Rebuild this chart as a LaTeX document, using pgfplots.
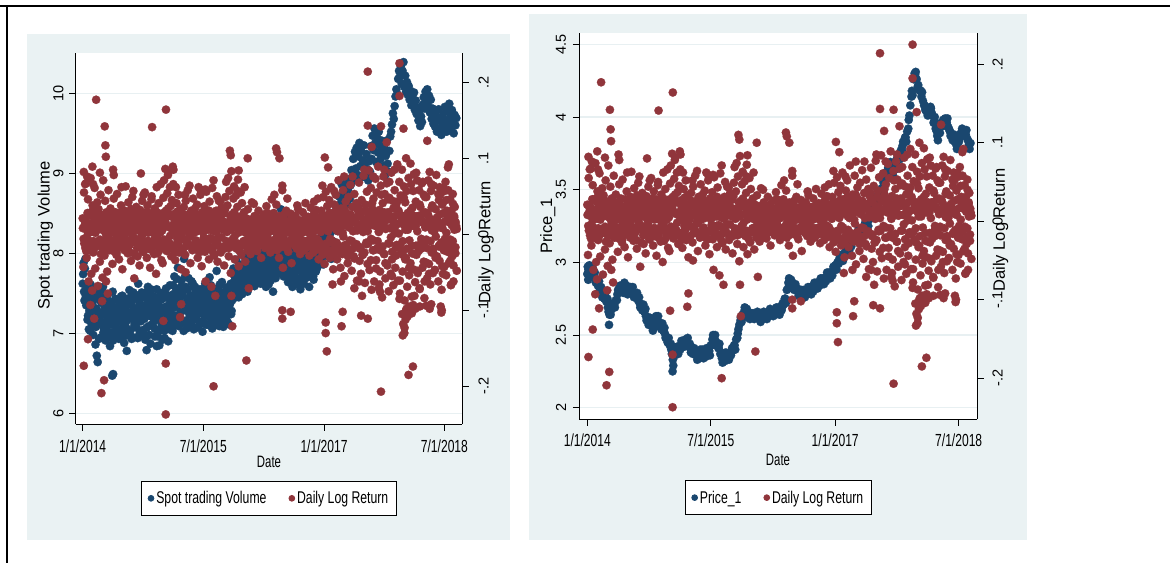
\documentclass[border=0pt]{standalone}
\usepackage{fontspec}
\setmainfont{Liberation Sans}
\newfontfamily\sqf{Liberation Sans}[FakeStretch=0.69]
\newfontfamily\lgf{Liberation Sans}[FakeStretch=0.72]
\newfontfamily\rtf{Liberation Sans}
\usepackage{pgfplots}
\usepackage{pgfplotstable}
\pgfplotsset{compat=1.18}
\definecolor{navyc}{RGB}{26,71,111}
\definecolor{maroonc}{RGB}{144,53,59}
\definecolor{bgc}{RGB}{234,242,243}
\definecolor{gridc}{RGB}{232,240,242}
\newcommand\xf{\sqf\fontsize{17.5}{19}\selectfont}
\newcommand\df{\sqf\fontsize{16.5}{18}\selectfont}
\newcommand\yf{\rtf\fontsize{14.5}{16}\selectfont}
\newcommand\tf{\rtf\fontsize{16.5}{18}\selectfont}
\pgfplotsset{
  base/.style={scale only axis, anchor=south west, clip=false,
    tick align=outside, major tick length=6.5pt,
    tick style={black, line width=0.9pt},
    axis line style={black, line width=0.9pt},
    xticklabels={}, yticklabels={}},
  leg/.style={legend style={anchor=north, draw=black, line width=0.8pt, fill=white,
    font=\lgf\fontsize{17}{19}\selectfont, legend columns=2, inner xsep=6pt, inner ysep=8pt,
    /tikz/every even column/.append style={column sep=20pt}}, legend cell align=left}
}
\pgfplotstableread{
d r
0 .021
3 -.043
6 .055
9 .012
12 -.018
15 .067
18 -.031
21 .004
24 .046
27 -.062
30 .028
33 -.009
36 .074
39 -.052
42 .015
45 .038
48 -.024
51 .003
54 .061
57 -.045
60 .019
63 -.011
66 .042
69 -.068
72 .033
75 .008
78 -.036
81 .052
84 -.015
87 .025
90 -.057
93 .071
96 .011
99 -.028
102 .044
105 -.006
108 .029
111 -.049
114 .017
117 .058
120 -.021
123 .013
126 .034
129 -.008
132 .002
135 -.039
138 .024
141 .047
144 -.016
147 .007
150 .019
153 -.027
156 .053
159 -.004
162 .011
165 -.033
168 .028
171 -.012
174 .038
177 .001
180 -.046
183 .016
186 .022
189 -.019
192 .031
195 .063
198 -.007
201 .009
204 -.025
207 .042
210 .005
213 -.014
216 .026
219 -.035
222 .018
225 .049
228 -.002
231 .012
234 -.058
237 .027
240 -.011
243 .036
246 .006
249 -.029
252 .021
255 .014
258 -.041
261 .032
264 .003
267 -.017
270 .044
273 .009
276 -.023
279 .025
282 .055
285 -.013
288 .017
291 -.031
294 .038
297 .002
300 -.009
303 .028
306 -.044
309 .012
312 .046
315 -.018
318 .023
321 .007
324 -.026
327 .034
330 .015
333 -.052
336 .029
339 .004
342 -.012
345 .041
348 -.021
351 .019
354 .066
357 -.034
360 .012
363 -.038
366 .048
369 .071
372 -.015
375 .086
378 .031
381 -.022
384 .054
387 .078
390 .024
393 -.011
396 .062
399 .037
402 -.029
405 .045
408 .008
411 .066
414 -.017
417 .027
420 -.034
423 .015
426 .041
429 -.006
432 .022
435 .052
438 -.024
441 .011
444 .033
447 -.046
450 .018
453 .003
456 -.019
459 .036
462 .009
465 -.027
468 .044
471 -.008
474 .021
477 .058
480 -.013
483 .026
486 .005
489 -.038
492 .031
495 .014
498 -.021
501 .047
504 .002
507 -.016
510 .034
513 -.009
516 .019
519 .039
522 -.031
525 .007
528 .025
531 -.014
534 .052
537 .011
540 -.042
543 .029
546 .016
549 -.005
552 .037
555 -.023
558 .013
561 .056
564 -.011
567 .021
570 .006
573 -.033
576 .043
579 .017
582 -.019
585 .028
588 .061
591 -.007
594 .014
597 -.028
600 .022
603 -.015
606 .031
609 .008
612 -.036
615 .019
618 .044
621 -.004
624 .013
627 -.024
630 .035
633 .009
636 -.017
639 .027
642 -.041
645 .016
648 .049
651 .069
654 -.012
657 .038
660 .074
663 -.029
666 .057
669 .011
672 -.051
675 .083
678 .026
681 -.008
684 .047
687 .063
690 -.033
693 .018
696 .051
699 -.019
702 .036
705 .072
708 -.042
711 .023
714 .006
717 .055
720 -.027
723 .041
726 .012
729 -.014
732 .029
735 .062
738 -.036
741 .017
744 .004
747 -.021
750 .033
753 .008
756 -.012
759 .019
762 -.026
765 .014
768 .042
771 -.005
774 .011
777 -.018
780 .024
783 .003
786 -.009
789 .016
792 -.022
795 .012
798 .031
801 -.014
804 .007
807 .021
810 -.031
813 .015
816 .002
819 -.013
822 .026
825 .009
828 -.018
831 .013
834 .037
837 -.007
840 .011
843 -.016
846 .021
849 .004
852 -.024
855 .014
858 .046
861 -.009
864 .018
867 .028
870 .052
873 -.013
876 .007
879 .039
882 -.021
885 .015
888 .003
891 -.031
894 .024
897 .011
900 -.006
903 .019
906 .058
909 -.044
912 .012
915 .026
918 -.017
921 .008
924 .031
927 -.011
930 .016
933 -.023
936 .005
939 .018
942 -.008
945 .027
948 -.038
951 .013
954 .021
957 -.004
960 .009
963 -.015
966 .024
969 .002
972 -.019
975 .014
978 .033
981 -.007
984 .011
987 -.026
990 .018
993 .004
996 -.012
999 .029
1002 .008
1005 -.021
1008 .016
1011 .041
1014 -.009
1017 .012
1020 -.017
1023 .023
1026 .006
1029 -.028
1032 .019
1035 .035
1038 -.011
1041 .014
1044 .001
1047 -.024
1050 .027
1053 .009
1056 -.015
1059 .032
1062 -.006
1065 .018
1068 .047
1071 -.033
1074 .011
1077 .022
1080 -.019
1083 .031
1086 .008
1089 -.027
1092 .049
1095 .016
1098 -.039
1101 .024
1104 .056
1107 -.012
1110 .037
1113 -.024
1116 .013
1119 .045
1122 -.031
1125 .021
1128 .062
1131 -.008
1134 .028
1137 -.046
1140 .017
1143 .039
1146 -.014
1149 .052
1152 .006
1155 -.033
1158 .027
1161 .071
1164 -.021
1167 .014
1170 -.044
1173 .034
1176 .011
1179 -.026
1182 .058
1185 .019
1188 -.055
1191 .031
1194 .043
1197 -.017
1200 .026
1203 -.038
1206 .049
1209 .009
1212 -.022
1215 .065
1218 .015
1221 -.048
1224 .036
1227 .004
1230 -.029
1233 .053
1236 .021
1239 -.016
1242 .041
1245 -.061
1248 .032
1251 .012
1254 .068
1257 -.035
1260 .024
1263 -.052
1266 .045
1269 .007
1272 -.027
1275 .077
1278 .018
1281 -.064
1284 .039
1287 -.011
1290 .056
1293 -.039
1296 .028
1299 .084
1302 -.047
1305 .013
1308 .061
1311 -.073
1314 .034
1317 -.021
1320 .047
1323 -.062
1326 .021
1329 .073
1332 -.034
1335 .055
1338 -.018
1341 .089
1344 -.071
1347 .032
1350 -.049
1353 .064
1356 .012
1359 -.083
1362 .041
1365 .076
1368 -.026
1371 .053
1374 -.058
1377 .019
1380 .067
1383 -.041
1386 .029
1389 -.075
1392 .048
1395 .008
1398 -.052
1401 .081
1404 -.033
1407 .044
1410 -.067
1413 .023
1416 .058
1419 -.044
1422 .037
1425 -.014
1428 .092
1431 -.061
1434 .031
1437 .069
1440 -.078
1443 .051
1446 -.023
1449 .085
1452 -.049
1455 .016
1458 .063
1461 -.087
1464 .042
1467 -.031
1470 .057
1473 -.069
1476 .028
1479 .074
1482 -.054
1485 .011
1488 -.038
1491 .066
1494 -.082
1497 .035
1500 -.046
1503 .079
1506 .019
1509 -.063
1512 .043
1515 -.027
1518 .071
1521 -.051
1524 .024
1527 .058
1530 -.072
1533 .036
1536 -.019
1539 .067
1542 -.044
1545 .015
1548 .052
1551 -.084
1554 .029
1557 -.037
1560 .049
1563 -.058
1566 .026
1569 .071
1572 -.039
1575 .013
1578 -.066
1581 .057
1584 -.024
1587 .038
1590 -.051
1593 .064
1596 .009
1599 -.047
1602 .033
1605 .078
1608 -.029
1611 .018
1614 -.062
1617 .045
1620 -.035
1623 .052
1626 .014
1629 -.073
1632 .039
1635 -.018
1638 .061
1641 -.043
1644 .027
1647 .069
1650 -.054
1653 .031
1656 -.012
1659 .058
1662 -.038
1665 .024
1668 .046
1671 -.067
1674 .017
1677 -.029
1680 .053
1683 -.041
1686 .022
1689 .036
1692 -.025
1695 .011
1698 -.048
1 .008
7 -.012
13 .019
19 -.004
25 .014
31 -.021
37 .003
43 .024
49 -.009
55 .011
61 -.016
67 .006
73 .021
79 -.007
85 .013
91 -.019
97 .017
103 .002
109 -.011
115 .025
121 .004
127 -.014
133 .016
139 -.022
145 .009
151 .019
157 -.003
163 .012
169 -.017
175 .007
181 .022
187 -.008
193 .001
199 .015
205 -.013
211 .018
217 -.024
223 .006
229 .011
235 -.005
241 .016
247 -.018
253 .009
259 .023
265 -.006
271 .003
277 -.015
283 .013
289 .019
295 -.01
301 .007
307 -.02
313 .014
319 .002
325 -.012
331 .021
337 -.004
343 .01
349 -.016
355 .017
361 .005
367 -.009
373 .02
379 -.014
385 .011
391 .026
397 -.002
403 .008
409 -.019
415 .015
421 .001
427 -.013
433 .018
439 .006
445 -.021
451 .012
457 .022
463 -.007
469 .009
475 -.015
481 .016
487 -.003
493 .011
499 -.018
505 .004
511 .02
517 -.011
523 .013
529 .007
535 -.023
541 .018
547 .002
553 -.014
559 .01
565 .024
571 -.006
577 .015
583 -.017
589 .005
595 .012
601 -.008
607 .019
613 -.013
619 .007
625 .021
631 -.004
637 .011
643 -.019
649 .014
655 .003
661 -.01
667 .017
673 .006
679 -.016
685 .022
691 -.002
697 .009
703 -.012
709 .018
715 .004
721 -.014
727 .011
733 .003
739 -.008
745 .016
751 -.005
757 .012
763 .001
769 -.011
775 .014
781 .006
787 -.009
793 .013
799 -.003
805 .008
811 -.013
817 .015
823 .002
829 -.007
835 .01
841 -.005
847 .012
853 .004
859 -.01
865 .009
871 .016
877 -.006
883 .003
889 -.012
895 .011
901 .007
907 -.004
913 .014
919 -.009
925 .002
931 .011
937 -.013
943 .006
949 .015
955 -.003
961 .009
967 -.011
973 .004
979 .013
985 -.007
991 .001
997 .012
1003 -.009
1009 .016
1015 .005
1021 -.012
1027 .008
1033 .017
1039 -.004
1045 .011
1051 -.015
1057 .006
1063 .013
1069 -.008
1075 .019
1081 .003
1087 -.014
1093 .021
1099 .007
1105 -.018
1111 .012
1117 .024
1123 -.006
1129 .015
1135 -.021
1141 .009
1147 .02
1153 -.011
1159 .004
1165 .025
1171 -.016
1177 .013
1183 -.003
1189 .018
1195 -.022
1201 .011
1207 .026
1213 -.008
1219 .017
1225 -.019
1231 .005
1237 .022
1243 -.013
1249 .009
1255 .027
1261 -.017
1267 .014
1273 .003
1279 -.024
1285 .019
1291 .008
1297 -.012
1303 .025
1309 -.006
1315 .016
1321 -.021
1327 .011
1333 .027
1339 -.009
1345 .004
1351 -.018
1357 .022
1363 .013
1369 -.026
1375 .007
1381 .019
1387 -.012
1393 .024
1399 -.004
1405 -.023
1411 .015
1417 .009
1423 -.017
1429 .026
1435 .001
1441 -.014
1447 .021
1453 -.027
1459 .012
1465 .006
1471 -.019
1477 .023
1483 -.008
1489 .016
1495 -.025
1501 .011
1507 .024
1513 -.015
1519 .004
1525 -.022
1531 .018
1537 -.006
1543 .027
1549 -.012
1555 .009
1561 -.018
1567 .015
1573 .022
1579 -.009
1585 .005
1591 -.024
1597 .019
1603 -.003
1609 .013
1615 -.016
1621 .026
1627 -.011
1633 .008
1639 -.021
1645 .017
1651 .002
1657 -.014
1663 .023
1669 -.007
1675 .012
1681 -.019
1687 .006
1693 .016
4 -.006
10 .017
16 -.022
22 .028
28 .004
34 -.015
40 .011
46 .031
52 -.019
58 .002
64 .024
70 -.009
76 .013
82 -.026
88 .006
94 .019
100 -.013
106 .027
112 -.003
118 .009
124 -.018
130 .022
136 .005
142 -.011
148 .029
154 -.024
160 .014
166 .001
172 .018
178 -.008
184 .01
190 -.021
196 .026
202 .003
208 -.016
214 .012
220 .033
226 -.006
232 .021
238 -.027
244 .007
250 .025
256 -.012
262 .018
268 -.003
274 -.023
280 .015
286 .029
292 -.009
298 .004
304 .02
310 -.017
316 .008
322 .027
328 -.005
334 .013
340 -.025
346 .022
352 .002
358 -.011
364 .028
370 -.007
376 .016
382 -.02
388 .034
394 .009
400 -.014
406 .023
412 .005
418 -.024
424 .012
430 .03
436 -.01
442 .017
448 -.004
454 -.019
460 .026
466 .008
472 -.013
478 .021
484 -.001
490 .023
496 -.016
502 .011
508 .029
514 -.008
520 .004
526 -.022
532 .019
538 .014
544 -.012
550 .025
556 .006
562 -.019
568 .016
574 .031
580 -.005
586 .01
592 -.024
598 .02
604 .003
610 -.014
616 .027
622 .011
628 -.021
634 .017
640 .006
646 .032
652 -.009
658 .015
664 -.018
670 .024
676 .009
682 -.006
688 .029
694 -.013
700 .019
706 .002
712 -.022
718 .012
724 .016
730 -.009
736 .005
742 .021
748 -.015
754 .011
760 -.003
766 .018
772 .007
778 -.012
784 .014
790 -.017
796 .009
802 .003
808 .019
814 -.007
820 .012
826 -.014
832 .016
838 .001
844 -.011
850 .017
856 .006
862 -.015
868 .013
874 .021
880 -.004
886 .009
892 -.018
898 .014
904 .004
910 -.012
916 .018
922 .008
928 -.019
934 .011
940 .002
946 .016
952 -.008
958 .012
964 -.014
970 .007
976 .019
982 -.005
988 .013
994 -.017
1000 .01
1006 .003
1012 .022
1018 -.009
1024 .015
1030 .001
1036 -.016
1042 .012
1048 .024
1054 -.007
1060 .009
1066 -.02
1072 .017
1078 .005
1084 -.013
1090 .021
1096 .011
1102 -.023
1108 .016
1114 .004
1120 .028
1126 -.011
1132 .019
1138 -.026
1144 .013
1150 .031
1156 -.017
1162 .008
1168 -.024
1174 .022
1180 .002
1186 .034
1192 -.014
1198 .018
1204 -.029
1210 .012
1216 .026
1222 -.009
1228 .021
1234 -.032
1240 .015
1246 .005
1252 .036
1258 -.019
1264 .023
1270 -.027
1276 .011
1282 .031
1288 -.013
1294 .004
1302 .012
1308 -.034
1314 .041
1320 -.008
1326 .026
1332 -.045
1338 .019
1344 .003
1350 -.021
1356 .052
1362 -.016
1368 .029
1374 -.038
1380 .008
1386 .046
1392 -.012
1398 .021
1404 -.055
1410 .034
1416 .001
1422 -.028
1428 .043
1434 .014
1440 -.061
1446 .025
1452 -.009
1458 .048
1464 -.033
1470 .017
1476 .006
1482 -.044
1488 .031
1494 -.015
1500 .057
1506 -.026
1512 .011
1518 -.048
1524 .024
1530 .039
1536 -.011
1542 .018
1548 -.036
1554 .049
1560 -.007
1566 .027
1572 -.052
1578 .013
1584 .035
1590 -.019
1596 .004
1602 -.031
1608 .022
1614 .053
1620 -.014
1626 .009
1632 -.042
1638 .028
1644 -.006
1650 .045
1656 -.023
1662 .016
1668 -.035
1674 .031
1680 -.009
1686 .024
1692 -.017
1698 .007
5 -.173
5 .082
24 -.138
61 .177
44 .089
85 -.209
97 -.192
100 .142
103 .117
105 .102
52 -.111
35 -.093
43 -.074
88 -.088
106 -.062
114 -.078
11 .066
20 .076
47 .066
78 .081
138 .085
141 .078
176 .062
230 .057
264 .080
276 .052
313 .05
315 .141
336 .062
366 -.114
377 -.170
377 -.237
378 .164
389 .081
409 .089
412 .085
423 .062
442 -.109
447 -.092
465 .052
467 -.05
485 .064
526 .062
534 .059
556 .059
558 -.062
584 -.069
594 -.200
594 .071
602 -.081
609 .05
625 .043
668 .110
672 .104
675 -.081
679 -.121
704 .057
708 .084
743 -.166
749 .100
754 -.071
777 .04
838 .028
878 .113
882 .108
893 .100
906 -.100
906 -.111
906 .064
929 .047
944 -.102
974 .038
1050 .043
1088 .064
1099 .101
1103 -.116
1103 -.130
1108 -.154
1114 .088
1134 -.066
1141 .057
1172 -.062
1175 -.121
1180 -.102
1187 .076
1225 .076
1233 -.071
1255 -.062
1264 -.107
1268 -.081
1278 .085
1294 .214
1294 .143
1294 -.111
1312 .115
1319 .076
1347 -.066
1350 -.076
1354 .142
1354 -.207
1369 .085
1380 .121
1392 .069
1415 .085
1438 .225
1438 .182
1438 -.085
1453 -.133
1456 .139
1461 -.123
1468 .1
1468 -.1
1479 -.185
1488 .093
1494 -.104
1499 -.174
1506 -.081
1514 .081
1529 -.071
1544 .069
1552 -.062
1564 .123
1575 .082
1582 -.092
1582 .066
1598 -.047
1620 .062
1628 -.103
1635 -.052
1643 .057
1658 .088
1662 .092
1673 -.066
1681 .04
1683 -.062
1450 -.105
1455 -.118
1460 -.13
1466 -.112
1470 -.098
1475 -.108
1480 -.095
1500 -.093
1510 -.098
1530 -.095
1560 -.094
1575 -.098
1625 -.095
1630 -.1
}\rettab
\begin{document}
\begin{tikzpicture}
\path[use as bounding box] (0pt,0pt) rectangle (1170pt,-563pt);
\fill[white] (0pt,0pt) rectangle (1170pt,-563pt);
\fill[bgc] (27pt,-34pt) rectangle (510pt,-540pt);
\fill[bgc] (529pt,-14.4pt) rectangle (1026.7pt,-539.5pt);
\draw[line width=2.2pt] (0pt,-6pt) -- (1170pt,-6pt);
\draw[line width=2.2pt] (6.7pt,-6pt) -- (6.7pt,-563pt);
% ---------- left panel ----------
\begin{axis}[base, at={(75.7pt,-424pt)}, width=386.6pt, height=371.3pt,
  xmin=-31.8, xmax=1723.1, ymin=5.866, ymax=10.5075,
  axis x line*=bottom, axis y line*=left,
  xtick={0,546,1096,1642}, ytick={6,7,8,9,10},
  ymajorgrids, major grid style={gridc, line width=1.2pt},
  axis background/.style={fill=white}]
\addplot[only marks, mark=*, navyc, mark size=4.2pt, mark options={solid, draw=navyc, fill=navyc, line width=0.2pt}] coordinates {
(0,7.62)(4,7.88)(8,7.41)(12,7.93)(16,7.35)(20,7.56)(24,7.22)(28,7.05)(32,7.44)(36,7.61)
(40,7.12)(44,7.38)(48,6.98)(52,7.27)(56,7.55)(60,7.08)(64,6.72)(68,6.64)(72,7.46)(76,7.19)
(80,7.41)(84,6.95)(88,7.23)(92,7.58)(96,7.06)(100,7.33)(104,6.91)(108,7.15)(112,7.47)(116,7.02)
(120,7.28)(124,6.84)(128,7.36)(132,7.11)(136,7.52)(140,6.97)(144,7.24)(148,7.43)(152,7.05)(156,7.31)
(160,7.14)(164,6.93)(168,7.38)(172,7.21)(176,7.02)(180,7.47)(184,7.16)(188,6.88)(192,7.29)(196,7.08)
(200,6.78)(204,7.35)(208,7.19)(212,7.54)(216,7.03)(220,7.26)(224,7.41)(228,6.95)(232,7.32)(236,7.12)
(240,7.48)(244,7.07)(248,7.29)(252,7.62)(256,6.98)(260,7.37)(264,7.15)(268,7.51)(272,7.04)(276,7.33)
(280,7.18)(284,6.92)(288,7.44)(292,7.26)(296,7.58)(300,7.09)(304,7.35)(308,6.87)(312,7.21)(316,7.47)
(320,7.13)(324,7.39)(328,6.96)(332,7.28)(336,7.55)(340,7.02)(344,7.34)(348,6.85)(352,7.24)(356,7.42)
(360,7.08)(364,7.31)(368,7.51)(372,6.94)(376,7.19)(380,7.45)(384,7.27)(388,6.9)(392,7.36)(396,7.6)
(400,7.14)(404,7.38)(408,7.03)(412,7.49)(416,7.71)(420,7.22)(424,7.56)(428,7.35)(432,7.82)(436,7.09)
(440,7.44)(444,7.27)(448,7.66)(452,7.13)(456,7.52)(460,7.93)(464,7.31)(468,7.58)(472,7.06)(476,7.41)
(480,7.69)(484,7.24)(488,7.47)(492,7.12)(496,7.36)(500,7.62)(504,7.05)(508,7.29)(512,7.51)(516,7.18)
(520,7.38)(524,7.08)(528,7.26)(532,7.55)(536,7.14)(540,7.33)(544,7.02)(548,7.45)(552,7.21)(556,7.62)
(560,7.35)(564,7.11)(568,7.48)(572,7.27)(576,7.7)(580,7.19)(584,7.42)(588,7.06)(592,7.31)(596,7.54)
(600,7.23)(604,7.46)(608,7.78)(612,7.15)(616,7.38)(620,7.09)(624,7.52)(628,7.29)(632,7.64)(636,7.2)
(640,7.41)(644,7.13)(648,7.33)(652,7.57)(656,7.22)(660,7.46)(664,7.11)(668,7.36)(672,7.62)(676,7.28)
(680,7.55)(684,7.81)(688,7.48)(692,7.67)(696,7.92)(700,7.53)(704,7.74)(708,7.45)(712,7.86)(716,7.61)
(720,7.72)(724,7.49)(728,7.83)(732,7.64)(736,7.95)(740,7.57)(744,7.76)(748,7.52)(752,7.69)(756,7.88)
(760,7.63)(764,7.79)(768,7.96)(772,7.68)(776,7.85)(780,7.59)(784,7.74)(788,7.91)(792,7.66)(796,7.82)
(800,7.71)(804,7.94)(808,7.62)(812,7.87)(816,7.76)(820,8.01)(824,7.69)(828,7.83)(832,7.58)(836,7.92)
(840,7.78)(844,7.61)(848,7.95)(852,7.84)(856,8.12)(860,7.73)(864,7.52)(868,7.88)(872,8.05)(876,7.69)
(880,7.91)(884,8.24)(888,7.77)(892,8.38)(896,8.06)(900,8.55)(904,7.86)(908,8.19)(912,7.71)(916,7.98)
(920,8.31)(924,7.82)(928,8.08)(932,7.64)(936,7.93)(940,8.46)(944,7.75)(948,8.02)(952,7.58)(956,7.89)
(960,7.72)(964,7.95)(968,7.61)(972,7.83)(976,8.04)(980,7.68)(984,7.86)(988,7.55)(992,7.79)(996,7.97)
(1000,7.74)(1004,7.62)(1008,7.91)(1012,7.81)(1016,8.02)(1020,7.7)(1024,7.88)(1028,7.58)(1032,7.84)(1036,7.99)
(1040,7.76)(1044,7.93)(1048,7.67)(1052,7.85)(1056,8.06)(1060,7.79)(1064,7.95)(1068,8.18)(1072,7.87)(1076,8.04)
(1080,7.92)(1084,8.21)(1088,8.09)(1092,7.86)(1096,8.28)(1100,8.02)(1104,8.35)(1108,7.97)(1112,8.14)(1116,8.41)
(1120,8.06)(1124,8.25)(1128,7.93)(1132,8.32)(1136,8.15)(1140,8.46)(1144,8.11)(1148,8.38)(1152,8.57)(1156,8.28)
(1160,8.49)(1164,8.71)(1168,8.42)(1172,8.63)(1176,8.86)(1180,8.55)(1184,8.78)(1188,8.47)(1192,8.69)(1196,8.88)
(1200,8.61)(1204,8.79)(1208,8.92)(1212,8.68)(1216,8.85)(1220,9.04)(1224,8.96)(1228,9.18)(1232,8.91)(1236,9.27)
(1240,9.06)(1244,9.32)(1248,8.98)(1252,9.21)(1256,9.38)(1260,9.09)(1264,9.28)(1268,8.95)(1272,9.16)(1276,9.35)
(1280,9.12)(1284,8.96)(1288,9.24)(1292,9.05)(1296,8.91)(1300,9.15)(1304,9.02)(1308,9.34)(1312,9.18)(1316,9.47)
(1320,9.29)(1324,9.56)(1328,9.38)(1332,9.14)(1336,9.45)(1340,9.26)(1344,9.52)(1348,9.35)(1352,9.18)(1356,9.41)
(1360,9.27)(1364,9.09)(1368,9.33)(1372,8.97)(1376,9.22)(1380,9.41)(1384,9.12)(1388,9.02)(1392,9.28)(1396,9.46)
(1400,9.52)(1404,9.61)(1408,9.75)(1412,9.68)(1416,9.84)(1420,9.96)(1424,10.05)(1428,9.99)(1432,10.18)(1436,10.28)
(1440,10.21)(1444,10.34)(1448,10.12)(1452,10.28)(1456,10.39)(1460,10.08)(1464,10.22)(1468,10.02)(1472,10.14)(1476,9.98)
(1480,10.09)(1484,9.92)(1488,10.03)(1492,9.85)(1496,9.97)(1500,9.88)(1504,10.01)(1508,9.79)(1512,9.91)(1516,9.74)
(1520,9.82)(1524,9.66)(1528,9.77)(1532,9.59)(1536,9.71)(1540,9.64)(1544,9.86)(1548,9.95)(1552,9.81)(1556,10.02)
(1560,9.9)(1564,10.05)(1568,9.84)(1572,9.97)(1576,9.76)(1580,9.92)(1584,9.68)(1588,9.81)(1592,9.62)(1596,9.75)
(1600,9.58)(1604,9.71)(1608,9.52)(1612,9.66)(1616,9.8)(1620,9.55)(1624,9.69)(1628,9.48)(1632,9.62)(1636,9.74)
(1640,9.57)(1644,9.83)(1648,9.66)(1652,9.52)(1656,9.78)(1660,9.61)(1664,9.87)(1668,9.7)(1672,9.56)(1676,9.79)
(1680,9.64)(1684,9.5)(1688,9.73)(1692,9.6)(1696,9.69)
(134,6.47)(138,6.49)(290,6.79)(336,6.84)(363,6.92)
(2,7.74)(6,7.52)(10,7.81)(14,7.47)(18,7.38)(22,7.17)(26,7.49)(30,7.28)(34,7.03)(38,7.36)
(42,7.21)(46,7.52)(50,7.09)(54,7.43)(58,6.86)(62,7.31)(66,7.14)(70,7.55)(74,6.93)(78,7.26)
(82,7.12)(86,7.38)(90,7.5)(94,7.01)(98,7.27)(102,7.44)(106,7.08)(110,7.36)(114,7.22)(118,6.96)
(122,7.18)(126,7.39)(130,7.01)(134,7.27)(138,6.91)(142,7.33)(146,7.15)(150,6.99)(154,7.42)(158,7.2)
(162,7.31)(166,7.04)(170,7.25)(174,7.46)(178,6.95)(182,7.12)(186,7.37)(190,7.23)(194,6.97)(198,7.4)
(202,7.16)(206,7.02)(210,7.44)(214,7.23)(218,7.36)(222,6.93)(226,7.18)(230,7.51)(234,7.09)(238,7.28)
(242,7.21)(246,7.43)(250,6.94)(254,7.15)(258,7.38)(262,7.26)(266,7.02)(270,7.45)(274,7.19)(278,6.97)
(282,7.34)(286,7.51)(290,7.07)(294,7.22)(298,7.4)(302,6.98)(306,7.27)(310,7.55)(314,7.11)(318,7.32)
(322,7.24)(326,7.06)(330,7.45)(334,7.17)(338,7.33)(342,6.96)(346,7.41)(350,7.2)(354,7.5)(358,7.12)
(362,7.27)(366,7.44)(370,7.03)(374,7.33)(378,7.56)(382,7.1)(386,7.22)(390,7.47)(394,7.05)(398,7.29)
(402,7.45)(406,7.21)(410,7.6)(414,7.32)(418,7.11)(422,7.41)(426,7.68)(430,7.19)(434,7.5)(438,7.37)
(442,7.2)(446,7.58)(450,7.34)(454,7.47)(458,7.03)(462,7.29)(466,7.72)(470,7.16)(474,7.39)(478,7.55)
(482,7.31)(486,7.09)(490,7.44)(494,7.65)(498,7.22)(502,7.4)(506,7.17)(510,7.58)(514,7.34)(518,7.07)
(522,7.46)(526,7.25)(530,7.4)(534,7.12)(538,7.51)(542,7.29)(546,7.15)(550,7.38)(554,7.57)(558,7.11)
(562,7.24)(566,7.52)(570,7.39)(574,7.1)(578,7.33)(582,7.6)(586,7.26)(590,7.45)(594,7.13)(598,7.37)
(602,7.55)(606,7.31)(610,7.12)(614,7.42)(618,7.27)(622,7.61)(626,7.18)(630,7.44)(634,7.35)(638,7.08)
(642,7.29)(646,7.5)(650,7.21)(654,7.39)(658,7.14)(662,7.56)(666,7.3)(670,7.47)(674,7.24)(678,7.41)
(682,7.62)(686,7.44)(690,7.71)(694,7.58)(698,7.8)(702,7.66)(706,7.51)(710,7.77)(714,7.6)(718,7.83)
(722,7.58)(726,7.79)(730,7.66)(734,7.87)(738,7.55)(742,7.73)(746,7.9)(750,7.62)(754,7.81)(758,7.7)
(762,7.74)(766,7.88)(770,7.61)(774,7.8)(778,7.93)(782,7.7)(786,7.84)(790,7.64)(794,7.77)(798,7.95)
(802,7.83)(806,7.67)(810,7.79)(814,7.97)(818,7.72)(822,7.86)(826,7.63)(830,7.9)(834,7.75)(838,7.81)
(842,7.9)(846,7.71)(850,8.02)(854,7.66)(858,7.85)(862,7.97)(866,7.77)(870,8.1)(874,7.83)(878,7.94)
(882,8.06)(886,7.8)(890,7.95)(894,8.15)(898,7.88)(902,8.02)(906,7.74)(910,8.27)(914,7.92)(918,7.85)
(922,7.96)(926,8.12)(930,7.79)(934,7.88)(938,8.04)(942,7.7)(946,7.95)(950,8.17)(954,7.81)(958,7.99)
(962,7.85)(966,7.66)(970,7.9)(974,7.78)(978,7.95)(982,7.63)(986,7.82)(990,7.93)(994,7.7)(998,7.87)
(1002,7.8)(1006,7.93)(1010,7.69)(1014,7.86)(1018,7.74)(1022,7.95)(1026,7.82)(1030,7.98)(1034,7.72)(1038,7.89)
(1042,7.84)(1046,7.71)(1050,8.0)(1054,7.9)(1058,7.77)(1062,8.07)(1066,7.83)(1070,8.01)(1074,7.94)(1078,8.12)
(1082,8.03)(1086,7.9)(1090,8.15)(1094,8.0)(1098,8.22)
};
\end{axis}
\begin{axis}[base, leg, at={(75.7pt,-424pt)}, width=386.6pt, height=371.3pt,
  xmin=-31.8, xmax=1723.1, ymin=-0.2496, ymax=0.2389,
  axis y line*=right, axis x line=none,
  ytick={-0.2,-0.1,0,0.1,0.2},
  legend style={at={(0.5,-0.1535)}}]
\addlegendimage{legend image code/.code={\fill[navyc] (3pt,0pt) circle (2.9pt);}}
\addlegendentry{Spot trading Volume}
\addplot[only marks, mark=*, maroonc, mark size=4.2pt, mark options={solid, draw=maroonc, fill=maroonc, line width=0.2pt}, legend image code/.code={\fill[maroonc] (3pt,0pt) circle (2.9pt);}] table[x=d, y=r] {\rettab};
\addlegendentry{Daily Log Return}
\end{axis}
% ---------- right panel ----------
\begin{axis}[base, at={(579.3pt,-419pt)}, width=398pt, height=385.7pt,
  xmin=-35.4, xmax=1724.1, ymin=1.9223, ymax=4.5757,
  axis x line*=bottom, axis y line*=left,
  xtick={0,546,1096,1642}, ytick={2,2.5,3,3.5,4,4.5},
  ymajorgrids, major grid style={gridc, line width=1.2pt},
  axis background/.style={fill=white}]
\addplot[only marks, mark=*, navyc, mark size=4.2pt, mark options={solid, draw=navyc, fill=navyc, line width=0.2pt}] coordinates {
(0,2.92)(7,2.95)(14,2.97)(21,2.93)(28,2.91)(35,2.89)(42,2.87)(49,2.84)(56,2.81)(63,2.79)
(70,2.78)(77,2.76)(84,2.73)(91,2.69)(98,2.64)(105,2.67)(112,2.69)(119,2.71)(126,2.74)(133,2.78)
(140,2.82)(147,2.83)(154,2.81)(161,2.83)(168,2.82)(175,2.81)(182,2.83)(189,2.80)(196,2.81)(203,2.79)
(210,2.78)(217,2.76)(224,2.74)(231,2.72)(238,2.70)(245,2.68)(252,2.66)(259,2.63)(266,2.60)(273,2.59)
(280,2.57)(287,2.56)(294,2.58)(301,2.60)(308,2.61)(315,2.59)(322,2.57)(329,2.55)(336,2.53)(343,2.51)
(350,2.48)(357,2.45)(364,2.43)(371,2.40)(378,2.33)(385,2.38)(392,2.40)(399,2.40)(406,2.42)(413,2.43)
(420,2.43)(427,2.45)(434,2.47)(441,2.45)(448,2.43)(455,2.41)(462,2.40)(469,2.38)(476,2.37)(483,2.36)
(490,2.36)(497,2.37)(504,2.38)(511,2.37)(518,2.37)(525,2.38)(532,2.38)(539,2.39)(546,2.43)(553,2.47)
(560,2.49)(567,2.46)(574,2.44)(581,2.41)(588,2.37)(595,2.34)(602,2.34)(609,2.35)(616,2.35)(623,2.36)
(630,2.37)(637,2.38)(644,2.40)(651,2.43)(658,2.47)(665,2.51)(672,2.57)(679,2.62)(686,2.64)(693,2.66)
(700,2.66)(707,2.65)(714,2.63)(721,2.62)(728,2.63)(735,2.64)(742,2.64)(749,2.63)(756,2.63)(763,2.62)
(770,2.63)(777,2.63)(784,2.63)(791,2.64)(798,2.64)(805,2.65)(812,2.65)(819,2.66)(826,2.66)(833,2.66)
(840,2.67)(847,2.67)(854,2.68)(861,2.69)(868,2.71)(875,2.75)(882,2.81)(889,2.86)(896,2.86)(903,2.85)
(910,2.83)(917,2.82)(924,2.81)(931,2.80)(938,2.79)(945,2.78)(952,2.79)(959,2.79)(966,2.80)(973,2.80)
(980,2.81)(987,2.81)(994,2.82)(1001,2.83)(1008,2.84)(1015,2.85)(1022,2.86)(1029,2.86)(1036,2.87)(1043,2.88)
(1050,2.89)(1057,2.90)(1064,2.91)(1071,2.92)(1078,2.93)(1085,2.94)(1092,2.96)(1099,2.98)(1106,3.00)(1113,3.02)
(1120,3.03)(1127,3.04)(1134,3.06)(1141,3.07)(1148,3.09)(1155,3.11)(1162,3.13)(1169,3.15)(1176,3.16)(1183,3.18)
(1190,3.19)(1197,3.20)(1204,3.21)(1211,3.22)(1218,3.23)(1225,3.24)(1232,3.26)(1239,3.28)(1246,3.31)(1253,3.34)
(1260,3.36)(1267,3.38)(1274,3.40)(1281,3.43)(1288,3.45)(1295,3.48)(1302,3.51)(1309,3.55)(1316,3.59)(1323,3.62)
(1330,3.65)(1337,3.66)(1344,3.62)(1351,3.60)(1358,3.64)(1365,3.68)(1372,3.71)(1379,3.74)(1386,3.77)(1393,3.80)
(1400,3.83)(1407,3.86)(1414,3.90)(1421,3.98)(1428,4.08)(1435,4.18)(1442,4.26)(1449,4.29)(1456,4.26)(1463,4.22)
(1470,4.18)(1477,4.14)(1484,4.11)(1491,4.08)(1498,4.04)(1505,4.01)(1512,4.04)(1519,4.06)(1526,4.01)(1533,3.97)
(1540,3.92)(1547,3.87)(1554,3.89)(1561,3.93)(1568,3.95)(1575,3.97)(1582,3.99)(1589,3.96)(1596,3.93)(1603,3.90)
(1610,3.87)(1617,3.85)(1624,3.83)(1631,3.81)(1638,3.82)(1645,3.85)(1652,3.89)(1659,3.91)(1666,3.89)(1673,3.88)
(1680,3.85)(1687,3.81)(1694,3.82)
(2,2.97)(4,2.88)(9,2.98)(96,2.57)(377,2.25)(380,2.29)
(5,2.95)(19,2.94)(33,2.93)(47,2.84)(61,2.83)(75,2.75)(89,2.75)(103,2.64)(117,2.72)(131,2.74)
(145,2.84)(159,2.79)(173,2.84)(187,2.80)(201,2.83)(215,2.76)(229,2.76)(243,2.67)(257,2.68)(271,2.57)
(285,2.59)(299,2.56)(313,2.63)(327,2.54)(341,2.55)(355,2.45)(369,2.44)(383,2.35)(397,2.42)(411,2.40)
(425,2.46)(439,2.44)(453,2.44)(467,2.37)(481,2.39)(495,2.34)(509,2.40)(523,2.35)(537,2.40)(551,2.43)
(565,2.50)(579,2.41)(593,2.38)(607,2.32)(621,2.37)(635,2.36)(649,2.43)(663,2.48)(677,2.60)(691,2.63)
(705,2.68)(719,2.61)(733,2.65)(747,2.62)(761,2.65)(775,2.61)(789,2.65)(803,2.63)(817,2.67)(831,2.64)
(845,2.69)(859,2.67)(873,2.75)(887,2.82)(901,2.88)(915,2.81)(929,2.82)(943,2.77)(957,2.81)(971,2.78)
(985,2.83)(999,2.80)(1013,2.86)(1027,2.84)(1041,2.89)(1055,2.87)(1069,2.93)(1083,2.91)(1097,2.98)(1111,2.99)
(1125,3.05)(1139,3.04)(1153,3.11)(1167,3.11)(1181,3.18)(1195,3.17)(1209,3.23)(1223,3.21)(1237,3.28)(1251,3.30)
(1265,3.39)(1279,3.39)(1293,3.48)(1307,3.50)(1321,3.62)(1335,3.63)(1349,3.63)(1363,3.64)(1377,3.74)(1391,3.77)
(1405,3.86)(1419,3.92)(1433,4.14)(1447,4.30)(1461,4.21)(1475,4.18)(1489,4.08)(1503,4.04)(1517,4.07)(1531,3.96)
(1545,3.90)(1559,3.89)(1573,3.98)(1587,3.96)(1601,3.91)(1615,3.84)(1629,3.84)(1643,3.83)(1657,3.92)(1671,3.87)
(1685,3.83)
(10,2.92)(24,2.96)(38,2.86)(52,2.87)(66,2.76)(80,2.79)(94,2.66)(108,2.70)(122,2.69)(136,2.81)
(150,2.80)(164,2.86)(178,2.78)(192,2.83)(206,2.76)(220,2.79)(234,2.69)(248,2.71)(262,2.60)(276,2.62)
(290,2.53)(304,2.63)(318,2.56)(332,2.58)(346,2.48)(360,2.48)(374,2.37)(388,2.41)(402,2.37)(416,2.46)
(430,2.42)(444,2.48)(458,2.38)(472,2.41)(486,2.33)(500,2.40)(514,2.34)(528,2.41)(542,2.36)(556,2.50)
(570,2.43)(584,2.44)(598,2.31)(612,2.38)(626,2.33)(640,2.41)(654,2.40)(668,2.54)(682,2.59)(696,2.69)
(710,2.62)(724,2.65)(738,2.61)(752,2.66)(766,2.59)(780,2.66)(794,2.61)(808,2.68)(822,2.63)(836,2.69)
(850,2.64)(864,2.72)(878,2.72)(892,2.89)(906,2.82)(920,2.85)(934,2.77)(948,2.81)(962,2.76)(976,2.83)
(990,2.78)(1004,2.86)(1018,2.82)(1032,2.89)(1046,2.85)(1060,2.93)(1074,2.89)(1088,2.97)(1102,2.95)(1116,3.05)
(1130,3.01)(1144,3.10)(1158,3.08)(1172,3.18)(1186,3.15)(1200,3.23)(1214,3.19)(1228,3.27)(1242,3.25)(1256,3.37)
(1270,3.35)(1284,3.46)(1298,3.45)(1312,3.58)(1326,3.59)(1340,3.69)(1354,3.57)(1368,3.71)(1382,3.71)(1396,3.83)
(1410,3.83)(1424,4.01)(1438,4.15)(1452,4.31)(1466,4.19)(1480,4.17)(1494,4.05)(1508,4.04)(1522,4.03)(1536,4.00)
(1550,3.84)(1564,3.96)(1578,3.94)(1592,3.99)(1606,3.87)(1620,3.88)(1634,3.78)(1648,3.88)(1662,3.88)(1676,3.91)
(1690,3.78)
};
\end{axis}
\begin{axis}[base, leg, at={(579.3pt,-419pt)}, width=398pt, height=385.7pt,
  xmin=-35.4, xmax=1724.1, ymin=-0.2520, ymax=0.2394,
  axis y line*=right, axis x line=none,
  ytick={-0.2,-0.1,0,0.1,0.2},
  legend style={at={(0.5,-0.159)}}]
\addlegendimage{legend image code/.code={\fill[navyc] (3pt,0pt) circle (2.9pt);}}
\addlegendentry{Price\_1}
\addplot[only marks, mark=*, maroonc, mark size=4.2pt, mark options={solid, draw=maroonc, fill=maroonc, line width=0.2pt}, legend image code/.code={\fill[maroonc] (3pt,0pt) circle (2.9pt);}] table[x=d, y=r] {\rettab};
\addlegendentry{Daily Log Return}
\end{axis}
% ---------- text ----------
\begin{scope}[every node/.style={inner sep=0pt}]
\node[anchor=base, font=\xf] at (82.7pt,-452.7pt) {1/1/2014};
\node[anchor=base, font=\xf] at (203.3pt,-452.7pt) {7/1/2015};
\node[anchor=base, font=\xf] at (324.0pt,-452.7pt) {1/1/2017};
\node[anchor=base, font=\xf] at (444.4pt,-452.7pt) {7/1/2018};
\node[anchor=base, font=\df] at (269pt,-467.3pt) {Date};
\node[rotate=90, font=\yf] at (58.3pt,-413.3pt) {6};
\node[rotate=90, font=\yf] at (58.3pt,-333.3pt) {7};
\node[rotate=90, font=\yf] at (58.3pt,-253.3pt) {8};
\node[rotate=90, font=\yf] at (58.3pt,-173.3pt) {9};
\node[rotate=90, font=\yf] at (58.3pt,-93.3pt) {10};
\node[rotate=90, font=\yf] at (483.5pt,-386.3pt) {-.2};
\node[rotate=90, font=\yf] at (483.5pt,-310.3pt) {-.1};
\node[rotate=90, font=\yf] at (483.5pt,-234.3pt) {0};
\node[rotate=90, font=\yf] at (483.5pt,-158.3pt) {.1};
\node[rotate=90, font=\yf] at (483.5pt,-82.3pt) {.2};
\node[rotate=90, font=\tf] at (45.3pt,-235.5pt) {Spot trading Volume};
\node[rotate=90, font=\tf] at (486pt,-242.5pt) {Daily Log Return};
\node[anchor=base, font=\xf] at (587.3pt,-446.7pt) {1/1/2014};
\node[anchor=base, font=\xf] at (710.8pt,-446.7pt) {7/1/2015};
\node[anchor=base, font=\xf] at (835.2pt,-446.7pt) {1/1/2017};
\node[anchor=base, font=\xf] at (958.7pt,-446.7pt) {7/1/2018};
\node[anchor=base, font=\df] at (778pt,-465pt) {Date};
\node[rotate=90, font=\yf] at (561pt,-407.7pt) {2};
\node[rotate=90, font=\yf] at (561pt,-335.0pt) {2.5};
\node[rotate=90, font=\yf] at (561pt,-262.3pt) {3};
\node[rotate=90, font=\yf] at (561pt,-189.7pt) {3.5};
\node[rotate=90, font=\yf] at (561pt,-117.0pt) {4};
\node[rotate=90, font=\yf] at (561pt,-44.3pt) {4.5};
\node[rotate=90, font=\yf] at (997.5pt,-378.2pt) {-.2};
\node[rotate=90, font=\yf] at (997.5pt,-299.7pt) {-.1};
\node[rotate=90, font=\yf] at (997.5pt,-221.2pt) {0};
\node[rotate=90, font=\yf] at (997.5pt,-142.7pt) {.1};
\node[rotate=90, font=\yf] at (997.5pt,-64.2pt) {.2};
\node[rotate=90, font=\tf] at (547.8pt,-226pt) {Price\_1};
\node[rotate=90, font=\tf] at (1000.5pt,-230pt) {Daily Log Return};
\end{scope}
\end{tikzpicture}
\end{document}
